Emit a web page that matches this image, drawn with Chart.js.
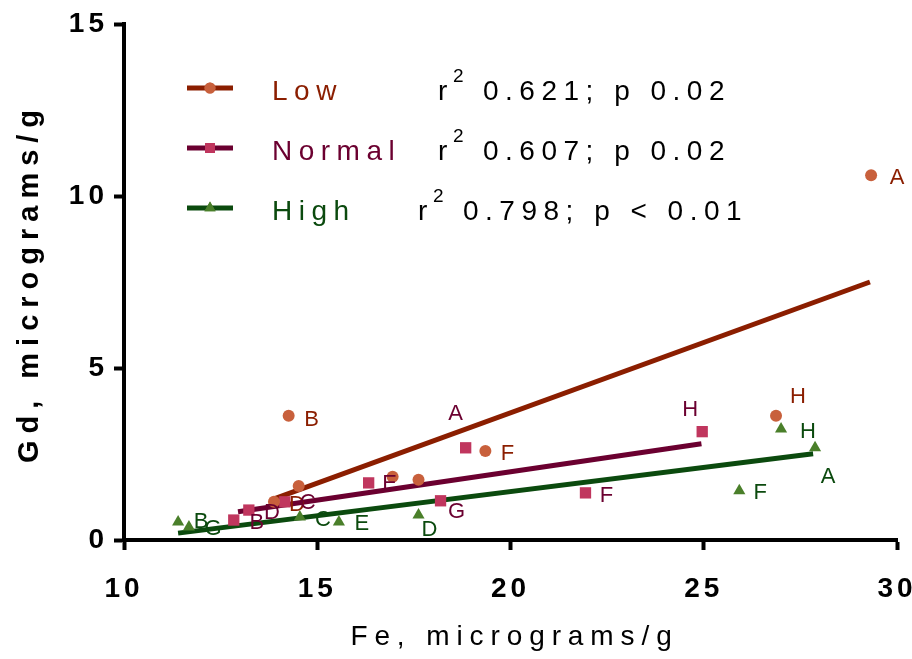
<!DOCTYPE html>
<html><head><meta charset="utf-8">
<script src="https://cdn.jsdelivr.net/npm/chart.js@4/dist/chart.umd.min.js"></script>
<style>html,body{margin:0;padding:0;background:#fff}#wrap{width:912px;height:659px;position:relative}</style>
</head><body><div id="wrap"><canvas id="c"></canvas></div>
<script>
// ---- data ----
const seriesNames = ['Low', 'Normal', 'High'];
const pointLetters = ['A', 'B', 'C', 'D', 'E', 'F', 'G', 'H'];
const lowFe    = [29.33, 14.26, 14.52, 13.88, 16.95, 19.35, 17.62, 26.87];
const lowGd    = [10.60, 3.61, 1.57, 1.11, 1.84, 2.59, 1.75, 3.61];
const normalFe = [18.84, 12.84, 14.16, 13.23, 16.33, 21.94, 18.19, 24.96];
const normalGd = [2.68, 0.58, 1.11, 0.87, 1.66, 1.37, 1.14, 3.15];
const highFe   = [27.88, 11.40, 14.55, 17.62, 15.56, 25.92, 11.68, 27.00];
const highGd   = [2.68, 0.52, 0.67, 0.73, 0.52, 1.43, 0.38, 3.23];
const lowShown    = [1, 1, 0, 1, 0, 1, 0, 1];
const normalShown = [1, 1, 1, 1, 1, 1, 1, 1];
const highShown   = [1, 1, 1, 1, 1, 1, 1, 1];
// regression line end points
const lowFitFe = [13.9, 29.3],    lowFitGd = [1.2, 7.5];
const normalFitFe = [12.95, 24.94], normalFitGd = [0.82, 2.80];
const highFitFe = [11.4, 27.83],  highFitGd = [0.2, 2.51];
const statR2 = ['0.621', '0.607', '0.798'];
const statP  = ['p 0.02', 'p 0.02', 'p < 0.01'];
const xTicks = [10, 15, 20, 25, 30];
const yTicks = [0, 5, 10, 15];
const xTitle = 'Fe, micrograms/g';
const yTitle = 'Gd, micrograms/g';

// ---- styles / label placement ----
const lowOff    = [[26,3],[23,4],[0,0],[23,3],[0,0],[22,3],[0,0],[22,-19]];
const normalOff = [[-10,-34],[23,3],[23,1],[23,3],[21,1],[21,3],[16,11],[-12,-22]];
const highOff   = [[13,29],[23,0],[23,3],[11,15],[23,2],[21,2],[24,2],[27,3]];

const groups = [
  {name: seriesNames[0], fe: lowFe, gd: lowGd, shown: lowShown, off: lowOff, fitFe: lowFitFe, fitGd: lowFitGd,
   marker: '#c8603c', line: '#8b1e00', label: '#8b1e00', style: 'circle', r: 6, legR: 5.5},
  {name: seriesNames[1], fe: normalFe, gd: normalGd, shown: normalShown, off: normalOff, fitFe: normalFitFe, fitGd: normalFitGd,
   marker: '#c0365e', line: '#6b0030', label: '#6b0030', style: 'rect', r: 8, legR: 7},
  {name: seriesNames[2], fe: highFe, gd: highGd, shown: highShown, off: highOff, fitFe: highFitFe, fitGd: highFitGd,
   marker: '#4a7f2a', line: '#0b4a0e', label: '#0b4a0e', style: 'triangle', r: 7, legR: 6.5}
];

const FONT = '"Liberation Sans", Arial, sans-serif';
const datasets = [];
groups.forEach(g => {
  datasets.push({
    type: 'scatter', label: g.name,
    data: g.fe.map((v, i) => ({x: v, y: g.gd[i]})),
    pointStyle: g.style, pointRadius: g.r, pointHoverRadius: g.r,
    backgroundColor: g.marker, borderColor: g.marker, borderWidth: 0, order: 1
  });
  datasets.push({
    type: 'line', label: g.name + ' fit',
    data: g.fitFe.map((v, i) => ({x: v, y: g.fitGd[i]})),
    borderColor: g.line, borderWidth: 5, pointRadius: 0, fill: false, order: 2, borderCapStyle: 'butt'
  });
});

const overlay = {
  id: 'overlay',
  beforeDraw(chart) { chart.ctx.letterSpacing = '4px'; },
  afterDatasetsDraw(chart) {
    const ctx = chart.ctx, xs = chart.scales.x, ys = chart.scales.y;
    ctx.save();
    ctx.letterSpacing = '0px';
    ctx.font = '22px ' + FONT;
    ctx.textAlign = 'center'; ctx.textBaseline = 'middle';
    groups.forEach(g => {
      ctx.fillStyle = g.label;
      g.fe.forEach((v, i) => {
        if (!g.shown[i]) return;
        ctx.fillText(pointLetters[i], xs.getPixelForValue(v) + g.off[i][0], ys.getPixelForValue(g.gd[i]) + g.off[i][1]);
      });
    });
    ctx.restore();
  },
  afterDraw(chart) {
    const ctx = chart.ctx, a = chart.chartArea;
    ctx.save();
    // axis titles
    ctx.fillStyle = '#000';
    ctx.letterSpacing = '6.9px';
    ctx.textAlign = 'center'; ctx.textBaseline = 'middle';
    ctx.font = '28px ' + FONT;
    ctx.fillText(xTitle, (a.left + a.right) / 2 + 4, 637);
    ctx.save();
    ctx.translate(30, (a.top + a.bottom) / 2 + 4);
    ctx.rotate(-Math.PI / 2);
    ctx.letterSpacing = '7px';
    ctx.font = 'bold 29px ' + FONT;
    ctx.fillText(yTitle, 3, 0);
    ctx.restore();
    // legend
    const rowY = [88, 148, 208];
    const rX = [438, 438, 418];
    groups.forEach((g, i) => {
      const y = rowY[i];
      ctx.strokeStyle = g.line; ctx.lineWidth = 5; ctx.lineCap = 'butt';
      ctx.beginPath(); ctx.moveTo(187, y); ctx.lineTo(233, y); ctx.stroke();
      ctx.fillStyle = g.marker;
      Chart.helpers.drawPoint(ctx, {pointStyle: g.style, radius: g.legR, borderWidth: 0, rotation: 0}, 210, y);
      ctx.fill();
      ctx.textAlign = 'left'; ctx.textBaseline = 'alphabetic';
      ctx.letterSpacing = '6.5px';
      ctx.font = '28px ' + FONT;
      ctx.fillStyle = g.label;
      ctx.fillText(g.name, 272, y + 12);
      ctx.fillStyle = '#000';
      ctx.fillText('r', rX[i], y + 12);
      ctx.font = '19px ' + FONT;
      ctx.letterSpacing = '0px';
      ctx.fillText('2', rX[i] + 15, y - 6);
      ctx.font = '28px ' + FONT;
      ctx.letterSpacing = '6.5px';
      ctx.fillText(statR2[i] + '; ' + statP[i], rX[i] + 45, y + 12);
    });
    ctx.restore();
  }
};

new Chart(document.getElementById('c'), {
  type: 'scatter',
  data: {datasets},
  options: {
    responsive: true, maintainAspectRatio: false, animation: false,
    layout: {padding: {top: 24, right: 15, left: 0, bottom: 0}},
    plugins: {legend: {display: false}, tooltip: {enabled: false}},
    scales: {
      x: {
        type: 'linear', min: 10, max: 30,
        afterBuildTicks: s => { s.ticks = xTicks.map(v => ({value: v})); },
        afterFit: s => { s.height = 119; s.paddingLeft = 0; s.paddingRight = 0; },
        border: {display: true, width: 4, color: '#000'},
        grid: {display: true, drawOnChartArea: false, drawTicks: true, tickLength: 10, tickWidth: 4, tickColor: '#000'},
        ticks: {color: '#000', font: {family: FONT, size: 28, weight: 'bold'}, padding: 22, maxRotation: 0}
      },
      y: {
        type: 'linear', min: 0, max: 15,
        afterBuildTicks: s => { s.ticks = yTicks.map(v => ({value: v})); },
        afterFit: s => { s.width = 124; s.paddingTop = 0; s.paddingBottom = 0; },
        border: {display: true, width: 4, color: '#000'},
        grid: {display: true, drawOnChartArea: false, drawTicks: true, tickLength: 10, tickWidth: 4, tickColor: '#000'},
        ticks: {color: '#000', font: {family: FONT, size: 28, weight: 'bold'}, padding: 6}
      }
    }
  },
  plugins: [overlay]
});
</script></body></html>
